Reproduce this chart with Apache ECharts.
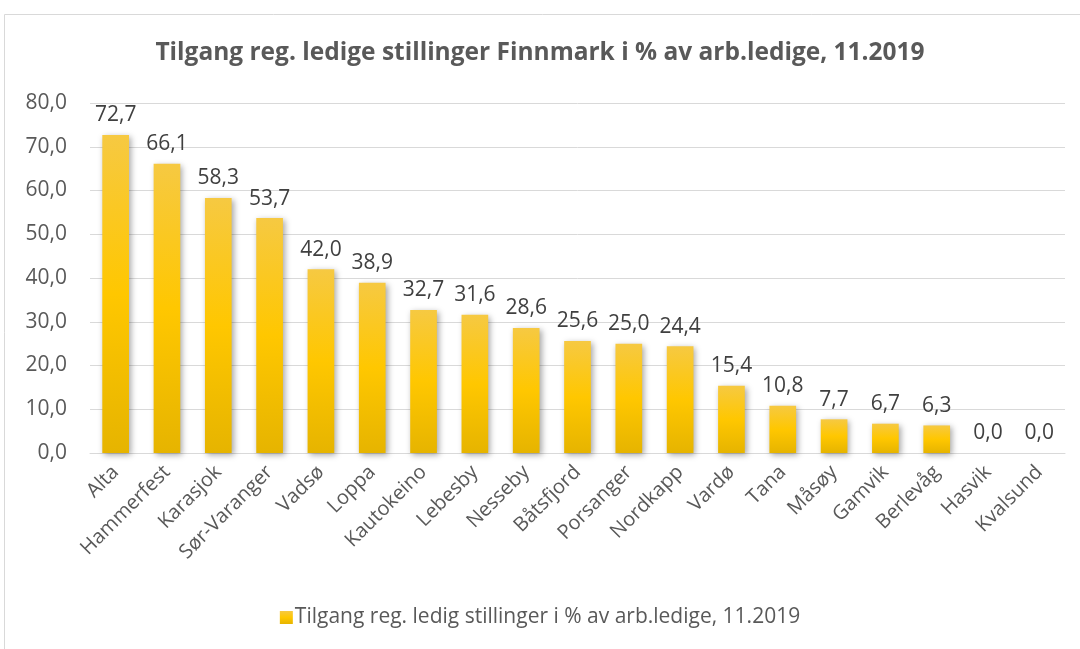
<!DOCTYPE html>
<html>
<head>
<meta charset="utf-8">
<script src="https://cdn.jsdelivr.net/npm/echarts@6/dist/echarts.min.js"></script>
<style>
  html, body { margin: 0; padding: 0; background: #fff; }
  #chart { width: 1080px; height: 649px; }
</style>
</head>
<body>
<div id="chart"></div>
<script>
// kommuner i Finnmark
const kommuner = ['Alta', 'Hammerfest', 'Karasjok', 'Sør-Varanger', 'Vadsø', 'Loppa', 'Kautokeino',
  'Lebesby', 'Nesseby', 'Båtsfjord', 'Porsanger', 'Nordkapp', 'Vardø', 'Tana', 'Måsøy', 'Gamvik',
  'Berlevåg', 'Hasvik', 'Kvalsund'];
const tilgang = [72.7, 66.1, 58.3, 53.7, 42.0, 38.9, 32.7, 31.6, 28.6, 25.6, 25.0, 24.4, 15.4, 10.8,
  7.7, 6.7, 6.3, 0.0, 0.0];
const seriesName = 'Tilgang reg. ledig stillinger i % av arb.ledige, 11.2019';
const chartTitle = 'Tilgang reg. ledige stillinger Finnmark i % av arb.ledige, 11.2019';

const fmt = v => v.toFixed(1).replace('.', ',');
const font = '"Open Sans", Lato, sans-serif';

const myChart = echarts.init(document.getElementById('chart'));

let option = {
  animation: false,
  textStyle: { fontFamily: font },
  title: {
    text: chartTitle,
    left: 'center',
    top: 36,
    textStyle: { fontFamily: font, fontSize: 24.5, fontWeight: 'bold', color: '#595959' }
  },
  graphic: [{
    type: 'rect',
    shape: { x: 4.5, y: 14.5, width: 1100, height: 700 },
    style: { fill: 'none', stroke: '#d9d9d9', lineWidth: 1 },
    silent: true
  }],
  legend: {
    bottom: 16,
    left: 'center',
    itemWidth: 13,
    itemHeight: 13,
    itemGap: 4,
    icon: 'rect',
    textStyle: { fontFamily: font, fontSize: 21, color: '#595959', padding: [0, 0, 0, -3] },
    data: [seriesName]
  },
  grid: { left: 90, right: 15, top: 103, bottom: 196, containLabel: false },
  xAxis: {
    type: 'category',
    data: kommuner,
    axisLine: { lineStyle: { color: '#d9d9d9', width: 1 } },
    axisTick: { show: false },
    axisLabel: {
      interval: 0,
      rotate: 45,
      margin: 16,
      fontFamily: font,
      fontSize: 20,
      color: '#595959'
    }
  },
  yAxis: {
    type: 'value',
    min: 0,
    max: 80,
    interval: 10,
    axisLine: { show: false },
    axisTick: { show: false },
    splitLine: { lineStyle: { color: '#d9d9d9', width: 1 } },
    axisLabel: {
      formatter: v => fmt(v),
      margin: 23,
      fontFamily: font,
      fontSize: 21,
      color: '#595959'
    }
  },
  series: [{
    name: seriesName,
    type: 'bar',
    data: tilgang,
    barWidth: '52%',
    itemStyle: {
      color: new echarts.graphic.LinearGradient(0, 0, 0, 1, [
        { offset: 0, color: '#f6c942' },
        { offset: 0.5, color: '#ffc700' },
        { offset: 1, color: '#e6b400' }
      ]),
      shadowColor: 'rgba(0,0,0,0.35)',
      shadowBlur: 6,
      shadowOffsetX: 2,
      shadowOffsetY: 2
    },
    label: {
      show: true,
      position: 'top',
      distance: 9,
      formatter: p => fmt(p.value),
      fontFamily: font,
      fontSize: 21,
      color: '#404040'
    }
  }]
};

myChart.setOption(option);
</script>
</body>
</html>
